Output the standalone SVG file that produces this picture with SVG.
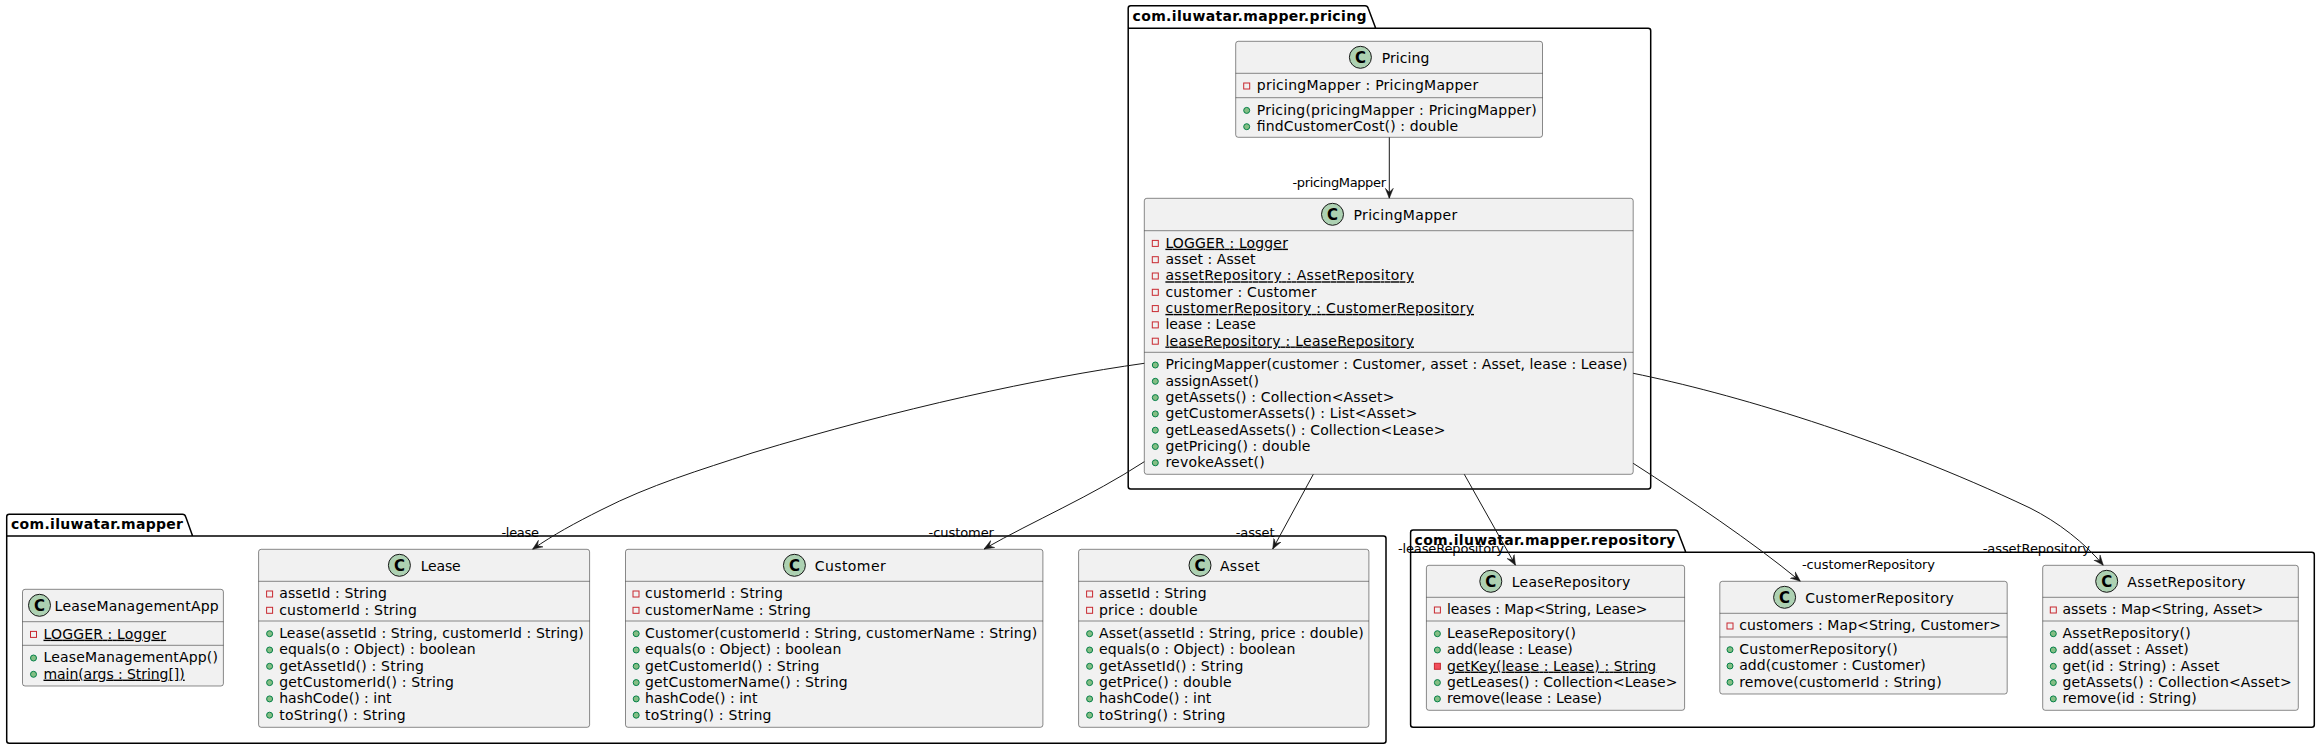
<svg xmlns="http://www.w3.org/2000/svg" width="2320" height="749" viewBox="0 0 2320 749">
<style>
text{font-family:"DejaVu Sans",sans-serif;font-size:14px;fill:#000}
.pkg{fill:none;stroke:#000;stroke-width:1.5}
.pt{font-weight:bold}
.box{fill:#F1F1F1;stroke:#181818;stroke-width:.5}
.div{stroke:#181818;stroke-width:.5}
.ci{fill:#ADD1B2;stroke:#181818;stroke-width:1}
.cg{font-weight:bold;font-size:15px;text-anchor:middle;fill:#000}
.pub{fill:#84BE84;stroke:#038048;stroke-width:1}
.pri{fill:none;stroke:#C82930;stroke-width:1}
.prf{fill:#F24D5C;stroke:#C82930;stroke-width:1}
.st{text-decoration:underline}
.lab{font-size:13px}
.con{fill:none;stroke:#181818;stroke-width:1;marker-end:url(#arr)}
</style>
<defs>
<marker id="arr" markerUnits="userSpaceOnUse" viewBox="0 0 10 10" refX="10" refY="5" markerWidth="10" markerHeight="10" orient="auto"><path d="M10,5 L0,1 L4,5 L0,9 Z" fill="#181818" stroke="#181818" stroke-width=".5"/></marker>
<circle id="pubi" class="pub" r="3"/>
<rect id="prii" class="pri" width="6" height="6"/>
</defs>
<g id="packages">
<g id="pkg-pricing"><path class="pkg" d="M1128.2,8.2 Q1128.2,5.7 1130.7,5.7 L1365,5.7 Q1367.5,5.7 1368.2,8.2 L1375.7,28.3 L1648.2,28.3 Q1650.7,28.3 1650.7,30.8 L1650.7,486.5 Q1650.7,489 1648.2,489 L1130.7,489 Q1128.2,489 1128.2,486.5 Z M1128.2,28.3 L1375.7,28.3"/><text class="pt" x="1132.5" y="20.7" textLength="234">com.iluwatar.mapper.pricing</text></g>
<g id="pkg-mapper"><path class="pkg" d="M6.7,516.8 Q6.7,514.3 9.2,514.3 L182.5,514.3 Q185,514.3 185.7,516.8 L192.6,536 L1383.5,536 Q1386,536 1386,538.5 L1386,740.8 Q1386,743.3 1383.5,743.3 L9.2,743.3 Q6.7,743.3 6.7,740.8 Z M6.7,536 L192.6,536"/><text class="pt" x="11" y="529" textLength="172">com.iluwatar.mapper</text></g>
<g id="pkg-repository"><path class="pkg" d="M1410.6,532.5 Q1410.6,530 1413.1,530 L1675,530 Q1677.5,530 1678.2,532.5 L1685.8,552.3 L2311.8,552.3 Q2314.3,552.3 2314.3,554.8 L2314.3,724.8 Q2314.3,727.3 2311.8,727.3 L1413.1,727.3 Q1410.6,727.3 1410.6,724.8 Z M1410.6,552.3 L1685.8,552.3"/><text class="pt" x="1414.5" y="545" textLength="261">com.iluwatar.mapper.repository</text></g>
</g>

<g id="Pricing">
<rect class="box" x="1235.7" y="41.3" width="306.8" height="96" rx="2.5"/>
<path class="div" d="M1235.7,73.3H1542.5M1235.7,97.7H1542.5"/>
<circle class="ci" cx="1360.4" cy="57.3" r="11"/><text class="cg" x="1360.4" y="62.6">C</text>
<text x="1381.8" y="62.6" textLength="47.5">Pricing</text>
<use href="#prii" x="1243.7" y="83"/><text x="1256.8" y="90.3" textLength="221.4">pricingMapper : PricingMapper</text>
<use href="#pubi" x="1246.7" y="110.4"/><text x="1256.8" y="114.7" textLength="280">Pricing(pricingMapper : PricingMapper)</text>
<use href="#pubi" x="1246.7" y="126.7"/><text x="1256.8" y="131" textLength="201.4">findCustomerCost() : double</text>
</g>

<g id="PricingMapper">
<rect class="box" x="1144.3" y="198.3" width="488.9" height="276" rx="2.5"/>
<path class="div" d="M1144.3,230.7H1633.2M1144.3,352.3H1633.2"/>
<circle class="ci" cx="1332.5" cy="214.3" r="11"/><text class="cg" x="1332.5" y="219.6">C</text>
<text x="1353.6" y="219.6" textLength="103.6">PricingMapper</text>
<use href="#prii" x="1152.3" y="240.4"/><text class="st" x="1165.4" y="247.7" textLength="122.5">LOGGER : Logger</text>
<use href="#prii" x="1152.3" y="256.7"/><text x="1165.4" y="264" textLength="90">asset : Asset</text>
<use href="#prii" x="1152.3" y="273"/><text class="st" x="1165.4" y="280.3" textLength="248.6">assetRepository : AssetRepository</text>
<use href="#prii" x="1152.3" y="289.3"/><text x="1165.4" y="296.6" textLength="151">customer : Customer</text>
<use href="#prii" x="1152.3" y="305.6"/><text class="st" x="1165.4" y="312.9" textLength="308.6">customerRepository : CustomerRepository</text>
<use href="#prii" x="1152.3" y="321.9"/><text x="1165.4" y="329.2" textLength="90.4">lease : Lease</text>
<use href="#prii" x="1152.3" y="338.2"/><text class="st" x="1165.4" y="345.5" textLength="248.6">leaseRepository : LeaseRepository</text>
<use href="#pubi" x="1155.3" y="365"/><text x="1165.4" y="369.3" textLength="462">PricingMapper(customer : Customer, asset : Asset, lease : Lease)</text>
<use href="#pubi" x="1155.3" y="381.3"/><text x="1165.4" y="385.6" textLength="93.6">assignAsset()</text>
<use href="#pubi" x="1155.3" y="397.6"/><text x="1165.4" y="401.9" textLength="229">getAssets() : Collection&lt;Asset&gt;</text>
<use href="#pubi" x="1155.3" y="413.9"/><text x="1165.4" y="418.2" textLength="252">getCustomerAssets() : List&lt;Asset&gt;</text>
<use href="#pubi" x="1155.3" y="430.2"/><text x="1165.4" y="434.5" textLength="280">getLeasedAssets() : Collection&lt;Lease&gt;</text>
<use href="#pubi" x="1155.3" y="446.5"/><text x="1165.4" y="450.8" textLength="145">getPricing() : double</text>
<use href="#pubi" x="1155.3" y="462.8"/><text x="1165.4" y="467.1" textLength="99.3">revokeAsset()</text>
</g>

<g id="LeaseManagementApp">
<rect class="box" x="22.5" y="589.3" width="200.9" height="96.7" rx="2.5"/>
<path class="div" d="M22.5,621.7H223.4M22.5,645.3H223.4"/>
<circle class="ci" cx="39.5" cy="605.3" r="11"/><text class="cg" x="39.5" y="610.6">C</text>
<text x="54.6" y="610.6" textLength="164.1">LeaseManagementApp</text>
<use href="#prii" x="30.5" y="631.4"/><text class="st" x="43.5" y="638.7" textLength="122.6">LOGGER : Logger</text>
<use href="#pubi" x="33.5" y="658"/><text x="43.5" y="662.3" textLength="174.4">LeaseManagementApp()</text>
<use href="#pubi" x="33.5" y="674.3"/><text class="st" x="43.5" y="678.6" textLength="141.2">main(args : String[])</text>
</g>

<g id="Lease">
<rect class="box" x="258.6" y="549.3" width="331" height="178" rx="2.5"/>
<path class="div" d="M258.6,581.3H589.6M258.6,621H589.6"/>
<circle class="ci" cx="399.4" cy="565.3" r="11"/><text class="cg" x="399.4" y="570.6">C</text>
<text x="420.7" y="570.6" textLength="40">Lease</text>
<use href="#prii" x="266.6" y="591"/><text x="279.2" y="598.3" textLength="107.6">assetId : String</text>
<use href="#prii" x="266.6" y="607.3"/><text x="279.2" y="614.6" textLength="137.6">customerId : String</text>
<use href="#pubi" x="269.6" y="633.7"/><text x="279.2" y="638" textLength="304.5">Lease(assetId : String, customerId : String)</text>
<use href="#pubi" x="269.6" y="650"/><text x="279.2" y="654.3" textLength="196.5">equals(o : Object) : boolean</text>
<use href="#pubi" x="269.6" y="666.3"/><text x="279.2" y="670.6" textLength="144.7">getAssetId() : String</text>
<use href="#pubi" x="269.6" y="682.6"/><text x="279.2" y="686.9" textLength="174.8">getCustomerId() : String</text>
<use href="#pubi" x="269.6" y="698.9"/><text x="279.2" y="703.2" textLength="112.3">hashCode() : int</text>
<use href="#pubi" x="269.6" y="715.2"/><text x="279.2" y="719.5" textLength="126.5">toString() : String</text>
</g>

<g id="Customer">
<rect class="box" x="625.5" y="549.3" width="417.4" height="178" rx="2.5"/>
<path class="div" d="M625.5,581.3H1042.9M625.5,621H1042.9"/>
<circle class="ci" cx="794.4" cy="565.3" r="11"/><text class="cg" x="794.4" y="570.6">C</text>
<text x="814.8" y="570.6" textLength="70.9">Customer</text>
<use href="#prii" x="633" y="591"/><text x="645" y="598.3" textLength="137.8">customerId : String</text>
<use href="#prii" x="633" y="607.3"/><text x="645" y="614.6" textLength="165.8">customerName : String</text>
<use href="#pubi" x="636.2" y="633.7"/><text x="645" y="638" textLength="392.3">Customer(customerId : String, customerName : String)</text>
<use href="#pubi" x="636.2" y="650"/><text x="645" y="654.3" textLength="196.4">equals(o : Object) : boolean</text>
<use href="#pubi" x="636.2" y="666.3"/><text x="645" y="670.6" textLength="174.5">getCustomerId() : String</text>
<use href="#pubi" x="636.2" y="682.6"/><text x="645" y="686.9" textLength="202.6">getCustomerName() : String</text>
<use href="#pubi" x="636.2" y="698.9"/><text x="645" y="703.2" textLength="112.5">hashCode() : int</text>
<use href="#pubi" x="636.2" y="715.2"/><text x="645" y="719.5" textLength="126.5">toString() : String</text>
</g>

<g id="Asset">
<rect class="box" x="1078.6" y="549.3" width="290.3" height="178" rx="2.5"/>
<path class="div" d="M1078.6,581.3H1368.9M1078.6,621H1368.9"/>
<circle class="ci" cx="1200" cy="565.3" r="11"/><text class="cg" x="1200" y="570.6">C</text>
<text x="1219.9" y="570.6" textLength="39.8">Asset</text>
<use href="#prii" x="1086.6" y="591"/><text x="1099" y="598.3" textLength="107.7">assetId : String</text>
<use href="#prii" x="1086.6" y="607.3"/><text x="1099" y="614.6" textLength="98.5">price : double</text>
<use href="#pubi" x="1089.6" y="633.7"/><text x="1099" y="638" textLength="264.8">Asset(assetId : String, price : double)</text>
<use href="#pubi" x="1089.6" y="650"/><text x="1099" y="654.3" textLength="196.4">equals(o : Object) : boolean</text>
<use href="#pubi" x="1089.6" y="666.3"/><text x="1099" y="670.6" textLength="144.5">getAssetId() : String</text>
<use href="#pubi" x="1089.6" y="682.6"/><text x="1099" y="686.9" textLength="132.6">getPrice() : double</text>
<use href="#pubi" x="1089.6" y="698.9"/><text x="1099" y="703.2" textLength="112.3">hashCode() : int</text>
<use href="#pubi" x="1089.6" y="715.2"/><text x="1099" y="719.5" textLength="126.5">toString() : String</text>
</g>

<g id="LeaseRepository">
<rect class="box" x="1426.4" y="565.3" width="258.2" height="145" rx="2.5"/>
<path class="div" d="M1426.4,597.3H1684.6M1426.4,621H1684.6"/>
<circle class="ci" cx="1490.8" cy="581.3" r="11"/><text class="cg" x="1490.8" y="586.6">C</text>
<text x="1511.8" y="586.6" textLength="118.6">LeaseRepository</text>
<use href="#prii" x="1434.4" y="607"/><text x="1447" y="614.3" textLength="200.5">leases : Map&lt;String, Lease&gt;</text>
<use href="#pubi" x="1437.4" y="633.7"/><text x="1447" y="638" textLength="128.9">LeaseRepository()</text>
<use href="#pubi" x="1437.4" y="650"/><text x="1447" y="654.3" textLength="125.7">add(lease : Lease)</text>
<rect class="prf" x="1434.4" y="663.3" width="6" height="6"/><text class="st" x="1447" y="670.6" textLength="209.2">getKey(lease : Lease) : String</text>
<use href="#pubi" x="1437.4" y="682.6"/><text x="1447" y="686.9" textLength="230.5">getLeases() : Collection&lt;Lease&gt;</text>
<use href="#pubi" x="1437.4" y="698.9"/><text x="1447" y="703.2" textLength="155">remove(lease : Lease)</text>
</g>

<g id="CustomerRepository">
<rect class="box" x="1719.8" y="581.3" width="287.4" height="112.7" rx="2.5"/>
<path class="div" d="M1719.8,613.3H2007.2M1719.8,637H2007.2"/>
<circle class="ci" cx="1784.6" cy="597.3" r="11"/><text class="cg" x="1784.6" y="602.6">C</text>
<text x="1805.2" y="602.6" textLength="148.7">CustomerRepository</text>
<use href="#prii" x="1727" y="623"/><text x="1739.2" y="630.3" textLength="261.8">customers : Map&lt;String, Customer&gt;</text>
<use href="#pubi" x="1730" y="649.7"/><text x="1739.2" y="654" textLength="158.6">CustomerRepository()</text>
<use href="#pubi" x="1730" y="666"/><text x="1739.2" y="670.3" textLength="186.6">add(customer : Customer)</text>
<use href="#pubi" x="1730" y="682.3"/><text x="1739.2" y="686.6" textLength="202.4">remove(customerId : String)</text>
</g>

<g id="AssetRepository">
<rect class="box" x="2042.7" y="565.3" width="255.6" height="145" rx="2.5"/>
<path class="div" d="M2042.7,597.3H2298.3M2042.7,621H2298.3"/>
<circle class="ci" cx="2106.7" cy="581.3" r="11"/><text class="cg" x="2106.7" y="586.6">C</text>
<text x="2127.3" y="586.6" textLength="118.3">AssetRepository</text>
<use href="#prii" x="2050.3" y="607"/><text x="2062.4" y="614.3" textLength="201">assets : Map&lt;String, Asset&gt;</text>
<use href="#pubi" x="2053.3" y="633.7"/><text x="2062.4" y="638" textLength="128.3">AssetRepository()</text>
<use href="#pubi" x="2053.3" y="650"/><text x="2062.4" y="654.3" textLength="126.3">add(asset : Asset)</text>
<use href="#pubi" x="2053.3" y="666.3"/><text x="2062.4" y="670.6" textLength="157">get(id : String) : Asset</text>
<use href="#pubi" x="2053.3" y="682.6"/><text x="2062.4" y="686.9" textLength="229.3">getAssets() : Collection&lt;Asset&gt;</text>
<use href="#pubi" x="2053.3" y="698.9"/><text x="2062.4" y="703.2" textLength="134.3">remove(id : String)</text>
</g>

<g id="connectors">
<path class="con" d="M1389.3,137.3 L1389.3,198.3"/>
<path class="con" d="M1144.3,363.3 C1040,378 900,408 752,453 C700,470 650,485 601,510 C575,523 553,535 532.5,549.3"/>
<path class="con" d="M1144.3,461.7 C1090,497 1035,520 984,549"/>
<path class="con" d="M1313.3,474.3 L1272.7,549"/>
<path class="con" d="M1464.3,474.3 L1515.5,565.3"/>
<path class="con" d="M1633.2,463.3 C1690,500 1750,540 1800.4,581.3"/>
<path class="con" d="M1633.2,373.3 C1730,393 1880,437 2030,508 C2058,522 2085,543 2103.3,565.3"/>
<text class="lab" x="1292.5" y="186.7" textLength="93.5">-pricingMapper</text>
<text class="lab" x="501.4" y="537" textLength="37.6">-lease</text>
<text class="lab" x="928.6" y="537" textLength="65.3">-customer</text>
<text class="lab" x="1235.7" y="537" textLength="38.8">-asset</text>
<text class="lab" x="1398" y="553" textLength="106">-leaseRepository</text>
<text class="lab" x="1802" y="569" textLength="133">-customerRepository</text>
<text class="lab" x="1982.7" y="553" textLength="107.3">-assetRepository</text>
</g>
</svg>
